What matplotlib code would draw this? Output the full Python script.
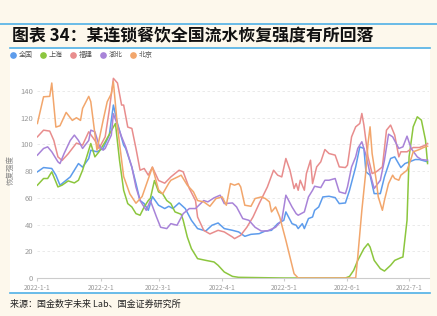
import matplotlib
matplotlib.use("Agg")
import matplotlib.pyplot as plt
from matplotlib.lines import Line2D
from matplotlib.patches import Rectangle

plt.rcParams['font.family'] = ['Noto Sans CJK SC', 'DejaVu Sans']

# day offsets from 2022-01-01
series_names = ["全国", "上海", "福建", "湖北", "北京"]
series_colors = ["#5d9cec", "#8cc63e", "#e88d8d", "#a883d8", "#f2a66c"]

blue_d = [0, 3, 7, 9, 11, 12, 16, 18, 20, 22, 25, 26, 29, 32, 35, 37, 39, 42, 43, 46,
          48, 50, 52, 54, 56, 59, 62, 64, 66, 69, 72, 75, 78, 82, 85, 88, 91, 95, 98, 101,
          104, 108, 111, 114, 117, 120, 121, 124, 126, 127, 129, 130, 132, 134, 135, 137, 139, 142, 145, 147,
          150, 152, 155, 157, 159, 160, 162, 164, 167, 169, 172, 174, 177, 179, 182, 184, 186, 190]
blue_v = [79.5, 82.7, 82, 77, 69.5, 70.7, 75.7, 80.7, 85.7, 83, 89.5, 95.7, 94.5, 97, 107, 129.5, 115.7, 99.5, 97, 83,
          70.7, 58, 55.7, 50.7, 61, 54.5, 52, 53.7, 52, 56.2, 52, 43.2, 37, 35.2, 39.5, 41.2, 37, 35.7, 34.5, 31.2,
          32.7, 33.2, 35.2, 35.7, 40.7, 43.2, 49.5, 40.7, 39.5, 37, 40.7, 37, 44.5, 45.7, 50.7, 53.2, 60.7, 61.2, 60.2, 55.7,
          56.2, 65.7, 83.2, 98.2, 97, 79.5, 77, 63.2, 63.2, 75.7, 89.5, 90.7, 82.7, 85.7, 87.5, 88.7, 88.7, 87]

green_d = [0, 3, 5, 7, 9, 10, 12, 15, 18, 20, 22, 24, 26, 28, 30, 33, 37, 38, 40, 42,
           44, 46, 48, 50, 52, 54, 55, 57, 59, 61, 63, 65, 67, 70, 71, 73, 75, 78, 82, 86,
           88, 91, 95, 98, 120, 150, 152, 154, 156, 159, 161, 162, 164, 167, 169, 172, 174, 177, 178, 180,
           181, 183, 185, 187, 189, 190]
green_v = [69.5, 74.5, 74.5, 79.5, 72, 68.2, 69.5, 72.7, 71.2, 73.2, 80.7, 90.7, 100.7, 90.7, 94.5, 102, 113, 115.7, 88, 65.7,
           55.7, 53.2, 48.2, 47, 53.2, 58, 59.5, 73, 64.5, 63, 58, 55.7, 49.5, 47.7, 43.2, 30.7, 22, 14.5, 13.2, 12,
           9.5, 4.5, 1.2, 0.5, 0, 0, 1.2, 5.7, 13.2, 22, 25.7, 23.2, 13.2, 7, 5.2, 9.5, 13.2, 15.2, 15.7, 43.2,
           90.7, 113.2, 120.7, 118.2, 103.2, 85.7]

red_d = [0, 3, 6, 8, 10, 12, 15, 19, 22, 25, 28, 30, 33, 35, 37, 39, 41, 42, 44, 46,
         48, 50, 52, 54, 56, 59, 62, 65, 69, 71, 74, 77, 78, 81, 84, 88, 91, 95, 96, 99,
         102, 105, 108, 112, 115, 117, 119, 121, 123, 125, 126, 127, 128, 130, 131, 133, 134, 136, 138, 140,
         142, 145, 147, 150, 151, 153, 155, 157, 158, 159, 161, 163, 165, 168, 170, 172, 174, 176, 177, 180,
         183, 186, 189, 190]
red_v = [105.7, 110.7, 110, 103, 90.7, 88, 93, 101, 99.5, 109.5, 103, 97, 105.7, 125.7, 149.5, 146, 129.5, 129.5, 113, 112,
         97, 80.7, 82, 77, 83, 73, 71, 75.7, 80.7, 79.5, 67, 58, 45.7, 35.7, 33, 35.7, 34.5, 30.7, 29.5, 32,
         38, 45.7, 55.7, 68.2, 80.7, 77, 75.7, 89.5, 80.7, 67, 70.7, 65.7, 73.2, 65.7, 78.2, 88.2, 70.7, 83.2, 87, 96.2,
         93.2, 92, 83.2, 82.7, 84.5, 105.7, 113.2, 115.7, 123.2, 114.5, 90.7, 78.2, 79.5, 83.2, 110.7, 114.5, 107, 90.7, 94.5, 94.5,
         97.7, 97.7, 99.5, 100.7]

purple_d = [0, 3, 5, 7, 10, 11, 13, 16, 18, 20, 22, 25, 26, 28, 30, 32, 33, 36, 37, 39,
            41, 43, 46, 48, 50, 53, 55, 58, 60, 63, 65, 68, 71, 74, 77, 81, 83, 86, 89, 91,
            95, 97, 100, 103, 106, 109, 112, 116, 119, 121, 124, 126, 127, 130, 132, 134, 135, 138, 140, 142,
            145, 147, 150, 151, 153, 155, 156, 158, 160, 162, 164, 167, 169, 171, 173, 176, 178, 180, 182, 185,
            187, 190]
purple_v = [92, 97, 98.2, 94.5, 87, 85.7, 93.2, 103, 107, 103, 97, 103, 110.7, 109.5, 99.5, 95.7, 97, 107, 123, 114.5,
            105.7, 98.2, 83, 68, 58, 50.7, 58, 45.7, 38, 37, 40.7, 39.5, 48.2, 52, 52, 58, 57, 60, 62, 55.7,
            56.2, 53.2, 44.5, 43.2, 38, 35.2, 35.2, 38, 43.2, 62, 53.2, 48.2, 47, 49.5, 60.7, 65.7, 68.7, 67.7, 73.2, 73.2,
            74.5, 64.5, 63.2, 68.2, 83.2, 90.7, 97, 102, 92, 78.2, 67, 73.2, 88.2, 107.7, 105.7, 97, 98.2, 106.2, 97, 90.7,
            88.7, 88.2]

orange_d = [0, 3, 6, 7, 9, 11, 14, 17, 19, 21, 22, 25, 26, 29, 32, 34, 36, 37, 39, 42,
            45, 48, 51, 56, 59, 61, 64, 65, 69, 70, 73, 76, 78, 81, 84, 87, 90, 92, 94, 96,
            98, 99, 101, 104, 106, 109, 111, 113, 114, 116, 118, 121, 123, 125, 127, 155, 156, 158, 160, 161,
            162, 163, 165, 166, 168, 169, 171, 173, 174, 176, 177, 180, 182, 183, 186, 188, 190]
orange_v = [115.7, 135.7, 136, 146, 113, 114, 124, 118, 120, 118, 127, 136, 132, 95.7, 118, 132, 138, 147, 113, 76,
            63, 56, 61, 83, 66, 63, 71, 73.2, 76.2, 77, 69.5, 64.5, 58, 57, 53.7, 59.5, 60.7, 54.5, 70.7, 69.5,
            70.7, 68.2, 54.5, 53.7, 59.5, 60.7, 59.5, 57, 49.5, 53.2, 45.7, 28.2, 15.7, 3.2, 0, 0, 15.7, 50.7, 80.7, 100.7,
            113.2, 93.2, 73.2, 60.7, 50.7, 58.2, 70.7, 77, 74.5, 73.2, 77, 80.7, 89.5, 94.5, 96.2, 97.7, 98.7]

tick_days = [0, 31, 59, 90, 120, 151, 181]
tick_labels = ["2022-1-1", "2022-2-1", "2022-3-1", "2022-4-1", "2022-5-1", "2022-6-1", "2022-7-1"]
y_ticks = [0, 20, 40, 60, 80, 100, 120, 140]

W, H = 437, 316
fig = plt.figure(figsize=(W / 100, H / 100), dpi=100)
fig.patch.set_facecolor("#fdf8ec")

# white panel and blue rules
fig.add_artist(Rectangle((10 / W, 1 - 293 / H), 420 / W, (293 - 49) / H,
                         transform=fig.transFigure, facecolor="white", edgecolor="none", zorder=0))
for y, x0, x1 in [(24, 0, W), (48, 10, 430), (293, 10, 430)]:
    fig.add_artist(Line2D([x0 / W, x1 / W], [1 - y / H] * 2, transform=fig.transFigure,
                          color="#4fb0e6", lw=1.2))

fig.text(12 / W, 1 - 36 / H, "图表 34：某连锁餐饮全国流水恢复强度有所回落",
         fontsize=12.2, fontweight="bold", va="center", color="#111111")
fig.text(10 / W, 1 - 304 / H, "来源：国金数字未来 Lab、国金证券研究所",
         fontsize=6.5, va="center", color="#222222")

# legend
for i, (name, c) in enumerate(zip(series_names, series_colors)):
    x0 = (13 + 30 * i) / W
    fig.add_artist(Line2D([x0], [1 - 55 / H], transform=fig.transFigure, marker="o",
                          ms=3.8, color=c, lw=0))
    fig.text(x0 + 6 / W, 1 - 55 / H, name, fontsize=5, va="center", color="#555555")

ax = fig.add_axes([37.4 / W, 1 - 278 / H, (429 - 37.4) / W, 207 / H])
ax.set_facecolor("none")
all_d = [blue_d, green_d, red_d, purple_d, orange_d]
all_v = [blue_v, green_v, red_v, purple_v, orange_v]
for d, v, c in zip(all_d, all_v, series_colors):
    ax.plot(d, v, color=c, lw=1.1, solid_joinstyle="round")

ax.set_xlim(0, 190.7)
ax.set_ylim(0, 155)
ax.set_yticks(y_ticks)
ax.set_xticks(tick_days)
ax.set_xticklabels(tick_labels)
ax.tick_params(axis="y", length=0, labelsize=5.5, labelcolor="#999999", pad=3)
ax.tick_params(axis="x", length=2.5, color="#cccccc", labelsize=4.8, labelcolor="#999999", pad=2)
for s in ["top", "right", "left"]:
    ax.spines[s].set_visible(False)
ax.spines["bottom"].set_color("#cccccc")
ax.grid(axis="y", ls=(0, (3, 3)), color="#e6e6e6", lw=0.6)
ax.set_axisbelow(True)
ax.set_ylabel("恢复强度", fontsize=5.4, color="#888888")
ax.yaxis.set_label_coords(-0.057, 0.52)

fig.savefig("out.png", dpi=100, facecolor=fig.get_facecolor())
